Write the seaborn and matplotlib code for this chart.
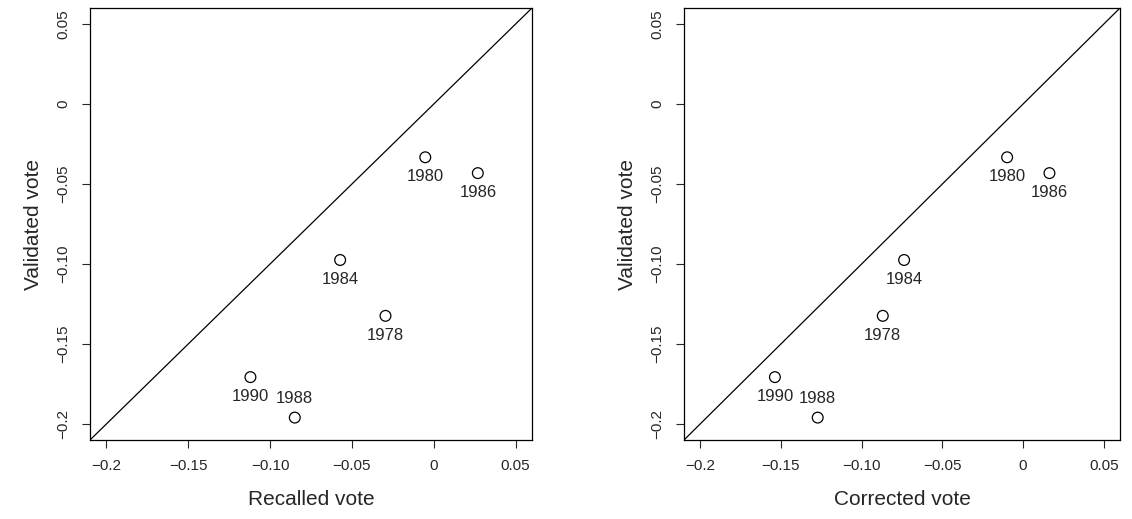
import matplotlib
matplotlib.use("Agg")
import matplotlib.pyplot as plt
import seaborn as sns
import pandas as pd

sns.set_style("ticks")
plt.rcParams['font.family'] = ['Liberation Sans', 'DejaVu Sans']

years = ["1978", "1980", "1984", "1986", "1988", "1990"]
validated = [-0.1324, -0.0333, -0.0975, -0.0432, -0.196, -0.1707]
recalled = [-0.0295, -0.0052, -0.0572, 0.0269, -0.0849, -0.112]
corrected = [-0.0869, -0.0099, -0.0737, 0.0163, -0.1272, -0.1537]
# 1988 is labelled above its point, the rest below
label_above = ["1988"]

df = pd.DataFrame({"year": years, "validated": validated,
                   "recalled": recalled, "corrected": corrected})

fig = plt.figure(figsize=(11.32, 5.19), dpi=100)
ax1 = fig.add_axes([90/1132, 1-440/519, 442/1132, 432/519])
ax2 = fig.add_axes([684/1132, 1-440/519, 436/1132, 432/519])

xticks = [-0.2, -0.15, -0.10, -0.05, 0, 0.05]
xticklabels = ["\u22120.2", "\u22120.15", "\u22120.10", "\u22120.05", "0", "0.05"]

for ax, col, xlabel in [(ax1, "recalled", "Recalled vote"), (ax2, "corrected", "Corrected vote")]:
    lim = (-0.21, 0.06)
    ax.plot(lim, lim, color="black", lw=0.9)
    sns.scatterplot(data=df, x=col, y="validated", ax=ax, s=60,
                    facecolor="none", edgecolor="black", linewidth=0.9)
    for _, r in df.iterrows():
        dy = 14 if r["year"] in label_above else -14
        ax.annotate(r["year"], (r[col], r["validated"]), xytext=(0, dy),
                    textcoords="offset points", ha="center", va="center", fontsize=12)
    ax.set_xlim(lim)
    ax.set_ylim(lim)
    ax.set_xticks(xticks)
    ax.set_xticklabels(xticklabels, fontsize=11)
    ax.set_yticks(xticks)
    ax.set_yticklabels(xticklabels, fontsize=11, rotation=90, va="center")
    ax.tick_params(length=6, pad=8)
    ax.set_xlabel(xlabel, fontsize=15, labelpad=12)
    ax.set_ylabel("Validated vote", fontsize=15, labelpad=10)
    for s in ax.spines.values():
        s.set_visible(True)
        s.set_color("black")
        s.set_linewidth(0.9)

fig.savefig("out.png", dpi=100)
